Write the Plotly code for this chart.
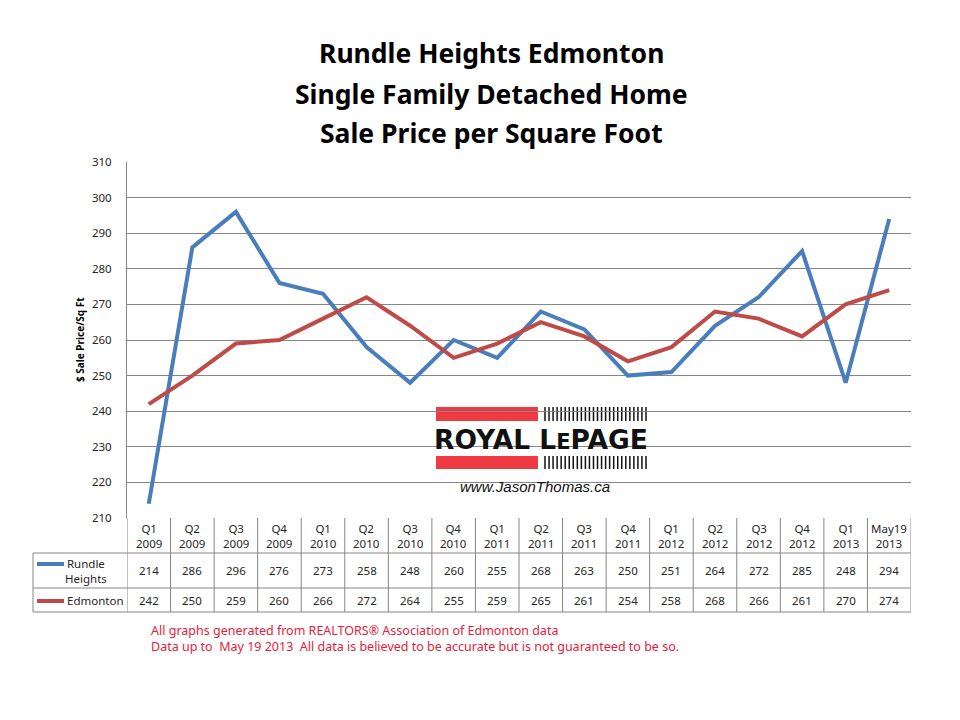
import plotly.graph_objects as go

categories = ["Q1 2009", "Q2 2009", "Q3 2009", "Q4 2009", "Q1 2010", "Q2 2010",
              "Q3 2010", "Q4 2010", "Q1 2011", "Q2 2011", "Q3 2011", "Q4 2011",
              "Q1 2012", "Q2 2012", "Q3 2012", "Q4 2012", "Q1 2013", "May19 2013"]
rundle = [214, 286, 296, 276, 273, 258, 248, 260, 255, 268, 263, 250, 251, 264, 272, 285, 248, 294]
edmonton = [242, 250, 259, 260, 266, 272, 264, 255, 259, 265, 261, 254, 258, 268, 266, 261, 270, 274]
y_ticks = [210, 220, 230, 240, 250, 260, 270, 280, 290, 300, 310]

BLUE = "#4A7EBB"
RED = "#BE4B48"
GRID = "#868686"
TXT = "#262626"
FONT = "Noto Sans"

W, H = 960, 720
OFF = 8  # page body margin offset
L, R, T, B = 127, 911, 162, 518


def px(x):
    return (x - L) / (R - L)


def py(y):
    return (B - y) / (B - T)


xs = list(range(len(categories)))

fig = go.Figure()
fig.add_trace(go.Scatter(x=xs, y=rundle, mode="lines", name="Rundle Heights",
                         line=dict(color=BLUE, width=4)))
fig.add_trace(go.Scatter(x=xs, y=edmonton, mode="lines", name="Edmonton",
                         line=dict(color=RED, width=4)))

shapes = []
ann = []

# Titles
for txt, yy in [("Rundle Heights Edmonton", 53), ("Single Family Detached Home", 94),
                ("Sale Price per Square Foot", 133)]:
    ann.append(dict(text=f"<b>{txt}</b>", x=px(491), y=py(yy), xref="paper", yref="paper",
                    showarrow=False, font=dict(family=FONT, size=26.5, color="#000"),
                    xanchor="center", yanchor="middle"))
# y axis title
ann.append(dict(text="<b>$ Sale Price/Sq Ft</b>", x=px(80), y=py(340), xref="paper", yref="paper",
                showarrow=False, textangle=-90, font=dict(family=FONT, size=10, color="#000"),
                xanchor="center", yanchor="middle"))

# Table geometry
r1, r2, r3 = 553, 588, 612
left = 33
for k in range(len(categories) + 1):
    shapes.append(dict(type="line", xref="x", yref="paper", x0=k - 0.5, x1=k - 0.5,
                       y0=0, y1=py(r3), line=dict(color=GRID, width=1)))
for yy in (r1, r2, r3):
    shapes.append(dict(type="line", xref="paper", yref="paper", x0=px(left), x1=1,
                       y0=py(yy), y1=py(yy), line=dict(color=GRID, width=1)))
shapes.append(dict(type="line", xref="paper", yref="paper", x0=px(left), x1=px(left),
                   y0=py(r1), y1=py(r3), line=dict(color=GRID, width=1)))

TF = dict(family=FONT, size=11.5, color=TXT)
for i, c in enumerate(categories):
    q, yr = c.split(" ")
    ann.append(dict(text=f"{q}<br>{yr}", x=i, y=py(535.5), xref="x", yref="paper",
                    showarrow=False, font=TF, xanchor="center", yanchor="middle"))
    ann.append(dict(text=str(rundle[i]), x=i, y=py(570.5), xref="x", yref="paper",
                    showarrow=False, font=TF, xanchor="center", yanchor="middle"))
    ann.append(dict(text=str(edmonton[i]), x=i, y=py(600), xref="x", yref="paper",
                    showarrow=False, font=TF, xanchor="center", yanchor="middle"))

# legend keys in table
shapes.append(dict(type="line", xref="paper", yref="paper", x0=px(37), x1=px(64),
                   y0=py(564), y1=py(564), line=dict(color=BLUE, width=4)))
shapes.append(dict(type="line", xref="paper", yref="paper", x0=px(37), x1=px(64),
                   y0=py(601), y1=py(601), line=dict(color=RED, width=4)))
ann.append(dict(text="Rundle<br>Heights", x=px(86), y=py(571), xref="paper", yref="paper",
                showarrow=False, font=TF, xanchor="center", yanchor="middle"))
ann.append(dict(text="Edmonton", x=px(65), y=py(600), xref="paper", yref="paper",
                showarrow=False, font=TF, xanchor="left", yanchor="middle"))

# footnote
ann.append(dict(text="All graphs generated from REALTORS® Association of Edmonton data<br>"
                     "Data up to  May 19 2013  All data is believed to be accurate but is not guaranteed to be so.",
                x=px(149), y=py(638), xref="paper", yref="paper", align="left",
                showarrow=False, font=dict(family=FONT, size=12.5, color="#E8203A"),
                xanchor="left", yanchor="middle"))

# Logo
shapes.append(dict(type="rect", xref="paper", yref="paper", x0=px(425), x1=px(653),
                   y0=py(400), y1=py(496), fillcolor="white", line=dict(width=0), layer="between"))
for y0, y1 in [(407, 421), (456, 469)]:
    shapes.append(dict(type="rect", xref="paper", yref="paper", x0=px(436), x1=px(538),
                       y0=py(y0), y1=py(y1), fillcolor="#EE3A43", line=dict(width=0), layer="between"))
    n = 26
    for j in range(n):
        xx = 545 + j * (101 / (n - 1))
        shapes.append(dict(type="line", xref="paper", yref="paper", x0=px(xx), x1=px(xx),
                           y0=py(y0), y1=py(y1), line=dict(color="#111", width=1.5), layer="between"))
ann.append(dict(text="<b>ROYAL L<span style='font-size:21px'>E</span>PAGE</b>", x=px(541), y=py(439),
                xref="paper", yref="paper", showarrow=False,
                font=dict(family="DejaVu Sans", size=26.5, color="#111"),
                xanchor="center", yanchor="middle"))
ann.append(dict(text="<i>www.JasonThomas.ca</i>", x=px(535), y=py(486), xref="paper", yref="paper",
                showarrow=False, font=dict(family="Liberation Sans", size=15, color="#111"),
                xanchor="center", yanchor="middle"))

fig.update_layout(
    width=W, height=H,
    margin=dict(l=L - OFF, r=W - R + OFF, t=T - OFF, b=H - B + OFF, pad=0),
    paper_bgcolor="white", plot_bgcolor="white",
    showlegend=False,
    shapes=shapes, annotations=ann,
    xaxis=dict(range=[-0.5, len(categories) - 0.5], showticklabels=False, showgrid=False,
               zeroline=False, ticks="", fixedrange=True),
    yaxis=dict(range=[210, 310], tickvals=y_ticks, showgrid=True, gridcolor=GRID, gridwidth=1,
               showline=True, linecolor=GRID, linewidth=1, zeroline=False, ticks="",
               ticklabelstandoff=12,
               tickfont=dict(family=FONT, size=11.5, color=TXT)),
)

fig.write_html("out.html")
